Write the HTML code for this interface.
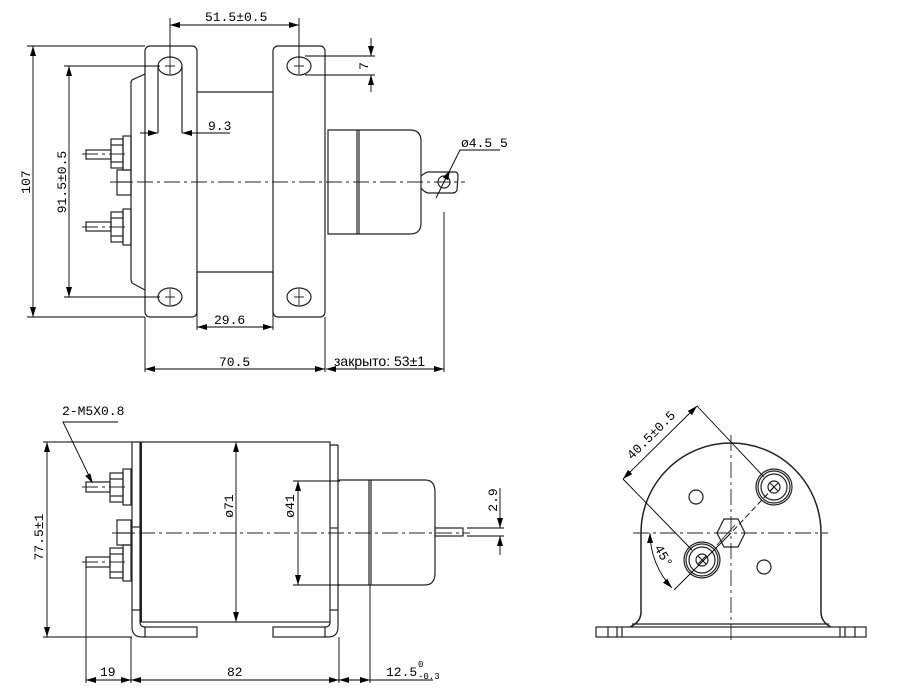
<!DOCTYPE html>
<html><head><meta charset="utf-8"><style>
html,body{margin:0;padding:0;background:#fff;width:897px;height:693px;overflow:hidden}
svg{display:block}
text{font-family:"Liberation Mono","DejaVu Sans Mono",monospace;font-size:13px;fill:#000}
</style></head><body>
<svg width="897" height="693" viewBox="0 0 897 693" xmlns="http://www.w3.org/2000/svg">
<defs>
<marker id="a" viewBox="0 0 10 6" refX="10" refY="3" markerWidth="10" markerHeight="6" orient="auto-start-reverse" markerUnits="userSpaceOnUse"><path d="M0,0 L10,3 L0,6z" fill="#000"/></marker>
</defs>
<g fill="none" stroke="#222" stroke-width="1.2">
<rect x="145" y="46" width="52" height="271" rx="5"/>
<rect x="273" y="46" width="52" height="271" rx="5"/>
<line x1="197" y1="92" x2="273" y2="92"/>
<line x1="197" y1="272" x2="273" y2="272"/>
<path d="M145,74 L132,80 L131,82 L131,280 L132,283 L145,290"/>
<g>
<ellipse cx="170" cy="66" rx="12" ry="9"/><ellipse cx="299" cy="66" rx="12" ry="9"/>
<ellipse cx="170" cy="297" rx="12" ry="9"/><ellipse cx="299" cy="297" rx="12" ry="9"/>
</g>
<g stroke-width="0.9">
<path d="M170,58v16M165,66h10M299,58v16M294,66h10M170,289v16M165,297h10M299,289v16M294,297h10"/>
</g>
<line x1="158" y1="66" x2="158" y2="133"/><line x1="182" y1="66" x2="182" y2="133"/>
<path d="M328,130 H410 Q421,130 421,141 V223 Q421,234 410,234 H328 Z"/>
<line x1="357" y1="130" x2="357" y2="234"/><line x1="359" y1="130" x2="359" y2="234"/>
<path d="M421,176 Q426,172 428,172 H455 Q458,172 458,176 L457,190 Q456,193 452,193 H428 Q424,192 421,188"/>
<circle cx="444" cy="182" r="6"/>
<rect x="86" y="150" width="25" height="9"/><rect x="111" y="139" width="12" height="29"/>
<line x1="111" y1="145" x2="123" y2="145"/><line x1="111" y1="162" x2="123" y2="162"/>
<rect x="123" y="136" width="8" height="34"/>
<rect x="117" y="170" width="14" height="25"/><line x1="117" y1="182" x2="131" y2="182"/>
<rect x="86" y="222" width="25" height="9"/><rect x="111" y="212" width="12" height="30"/>
<line x1="111" y1="218" x2="123" y2="218"/><line x1="111" y1="236" x2="123" y2="236"/>
<rect x="123" y="209" width="8" height="36"/>
<rect x="140" y="442" width="190" height="180"/>
<line x1="141" y1="442" x2="141" y2="622" stroke-width="2"/>
<path d="M132,442 H140 M132,442 V627 Q132,637 142,637 H145"/>
<path d="M140,622 Q140,627 145,627"/>
<path d="M338,445 H330 M338,445 V627 Q338,637 328,637 H325"/>
<path d="M330,622 Q330,627 325,627"/>
<rect x="145" y="627" width="52" height="10"/><rect x="273" y="627" width="52" height="10"/>
<line x1="132" y1="610" x2="140" y2="610"/><line x1="330" y1="610" x2="338" y2="610"/>
<line x1="132" y1="527" x2="140" y2="527"/><line x1="330" y1="528" x2="338" y2="528"/>
<path d="M338,480 H425 Q435,480 435,492 V573 Q435,585 425,585 H338"/>
<line x1="369" y1="480" x2="369" y2="585"/><line x1="371" y1="480" x2="371" y2="585"/>
<rect x="435" y="528" width="28" height="8"/>
<rect x="86" y="482" width="24" height="10"/><rect x="110" y="473" width="13" height="29"/>
<line x1="110" y1="479" x2="123" y2="479"/><line x1="110" y1="496" x2="123" y2="496"/>
<rect x="123" y="469" width="8" height="36"/>
<rect x="117" y="520" width="14" height="25"/><line x1="117" y1="533" x2="131" y2="533"/>
<rect x="86" y="557" width="24" height="10"/><rect x="110" y="548" width="13" height="30"/>
<line x1="110" y1="554" x2="123" y2="554"/><line x1="110" y1="572" x2="123" y2="572"/>
<rect x="123" y="545" width="8" height="36"/>
<path d="M641,533 A90,90 0 0 1 821,533 V612 Q821,622 831,627 M641,533 V612 Q641,622 630,627" stroke-width="1.5"/>
<line x1="632" y1="624" x2="829" y2="624"/>
<rect x="596" y="627" width="270" height="10"/>
<path d="M608,627v10M617,627v10M622,627v10M840,627v10M845,627v10M855,627v10"/>
<g>
<circle cx="774" cy="487" r="18"/><circle cx="774" cy="487" r="16"/><circle cx="774" cy="487" r="13"/><circle cx="774" cy="487" r="6"/>
<path d="M770,483l8,8M778,483l-8,8"/>
<circle cx="702" cy="560" r="18"/><circle cx="702" cy="560" r="16"/><circle cx="702" cy="560" r="13"/><circle cx="702" cy="560" r="6"/>
<path d="M698,556l8,8M706,556l-8,8"/>
<path d="M724,519 L738,519 L745,533 L738,547 L724,547 L717,533 Z"/>
<circle cx="696" cy="497" r="7"/><circle cx="764" cy="567" r="7"/>
</g>
</g>
<g stroke="#222" stroke-width="0.9" fill="none" stroke-dasharray="16,4,3,4">
<line x1="110" y1="182" x2="465" y2="182"/>
<line x1="82" y1="154" x2="128" y2="154"/><line x1="82" y1="227" x2="128" y2="227"/>
<line x1="112" y1="533" x2="470" y2="533"/>
<line x1="82" y1="487" x2="128" y2="487"/><line x1="82" y1="562" x2="128" y2="562"/>
<line x1="633" y1="533" x2="828" y2="533"/>
<line x1="731" y1="435" x2="731" y2="642"/>
<line x1="735" y1="525" x2="717" y2="545" stroke-dasharray="none"/>
</g>
<g stroke="#000" stroke-width="0.9" fill="none">
<line x1="170" y1="18" x2="170" y2="58"/><line x1="299" y1="18" x2="299" y2="58"/>
<line x1="170" y1="25" x2="299" y2="25" marker-start="url(#a)" marker-end="url(#a)"/>
<line x1="305" y1="56" x2="375" y2="56"/><line x1="305" y1="75" x2="375" y2="75"/>
<line x1="371" y1="38" x2="371" y2="56" marker-end="url(#a)"/><line x1="371" y1="92" x2="371" y2="75" marker-end="url(#a)"/>
<line x1="27" y1="46" x2="145" y2="46"/><line x1="27" y1="317" x2="145" y2="317"/>
<line x1="33" y1="46" x2="33" y2="317" marker-start="url(#a)" marker-end="url(#a)"/>
<line x1="64" y1="66" x2="160" y2="66"/><line x1="64" y1="297" x2="160" y2="297"/>
<line x1="69" y1="66" x2="69" y2="297" marker-start="url(#a)" marker-end="url(#a)"/>
<line x1="140" y1="133" x2="158" y2="133" marker-end="url(#a)"/><line x1="230" y1="133" x2="182" y2="133" marker-end="url(#a)"/>
<line x1="197" y1="272" x2="197" y2="330"/><line x1="273" y1="272" x2="273" y2="330"/>
<line x1="197" y1="327" x2="273" y2="327" marker-start="url(#a)" marker-end="url(#a)"/>
<line x1="145" y1="317" x2="145" y2="372"/><line x1="325" y1="317" x2="325" y2="372"/>
<line x1="145" y1="369" x2="325" y2="369" marker-start="url(#a)" marker-end="url(#a)"/>
<line x1="444" y1="212" x2="444" y2="372"/>
<line x1="326" y1="369" x2="444" y2="369" marker-start="url(#a)" marker-end="url(#a)"/>
<line x1="436" y1="198" x2="450" y2="170" marker-end="url(#a)"/>
<polyline points="450,170 460,150 500,150"/>
<polyline points="118,422 63,422 92,482"/>
<path d="M92,482 l-6,-6 l4,-2z" fill="#000"/>
<line x1="43" y1="442" x2="132" y2="442"/><line x1="43" y1="637" x2="132" y2="637"/>
<line x1="47" y1="442" x2="47" y2="637" marker-start="url(#a)" marker-end="url(#a)"/>
<line x1="236" y1="442" x2="236" y2="622" marker-start="url(#a)" marker-end="url(#a)"/>
<line x1="293" y1="481" x2="340" y2="481"/><line x1="293" y1="585" x2="340" y2="585"/>
<line x1="298" y1="481" x2="298" y2="585" marker-start="url(#a)" marker-end="url(#a)"/>
<line x1="467" y1="528" x2="504" y2="528"/><line x1="467" y1="536" x2="504" y2="536"/>
<line x1="500" y1="488" x2="500" y2="528" marker-end="url(#a)"/><line x1="500" y1="555" x2="500" y2="536" marker-end="url(#a)"/>
<line x1="86" y1="567" x2="86" y2="683"/><line x1="131" y1="637" x2="131" y2="683"/>
<line x1="339" y1="637" x2="339" y2="683"/><line x1="370" y1="585" x2="370" y2="683"/>
<line x1="86" y1="680" x2="131" y2="680" marker-start="url(#a)" marker-end="url(#a)"/>
<line x1="131" y1="680" x2="339" y2="680" marker-start="url(#a)" marker-end="url(#a)"/>
<line x1="339" y1="680" x2="370" y2="680" marker-start="url(#a)" marker-end="url(#a)"/>
<line x1="370" y1="680" x2="433" y2="680"/>
<line x1="764" y1="477" x2="697" y2="406"/><line x1="692" y1="550" x2="623" y2="479"/>
<line x1="623" y1="479" x2="697" y2="406" marker-start="url(#a)" marker-end="url(#a)"/>
<line x1="774" y1="487" x2="731" y2="533" stroke-dasharray="6,3"/>
<line x1="731" y1="533" x2="674" y2="590"/>
<path d="M650,533 A81,81 0 0 0 672,588" marker-start="url(#a)" marker-end="url(#a)"/>
</g>
<text x="205" y="21">51.5±0.5</text>
<text x="208" y="130">9.3</text>
<text x="214" y="324">29.6</text>
<text x="219" y="366">70.5</text>
<text x="334" y="366" style='font-family:"Liberation Sans",sans-serif;font-size:14px'>закрыто: 53±1</text>
<text x="461" y="147">ø4.5 5</text>
<text transform="translate(368,66) rotate(-90)" text-anchor="middle">7</text>
<text transform="translate(30,182) rotate(-90)" text-anchor="middle">107</text>
<text transform="translate(66,182) rotate(-90)" text-anchor="middle">91.5±0.5</text>
<text x="62" y="415">2-M5X0.8</text>
<text transform="translate(43,537) rotate(-90)" text-anchor="middle">77.5±1</text>
<text transform="translate(233,506) rotate(-90)" text-anchor="middle">ø71</text>
<text transform="translate(294,506) rotate(-90)" text-anchor="middle">ø41</text>
<text transform="translate(497,500) rotate(-90)" text-anchor="middle">2.9</text>
<text x="100" y="676">19</text>
<text x="227" y="676">82</text>
<text x="386" y="676">12.5</text>
<text x="418" y="667" style="font-size:9px">0</text>
<text x="418" y="679" style="font-size:9px">-0.3</text>
<text transform="translate(654,438) rotate(-45)" text-anchor="middle">40.5±0.5</text>
<text transform="translate(660,558) rotate(60)" text-anchor="middle">45°</text>
</svg>
</body></html>
